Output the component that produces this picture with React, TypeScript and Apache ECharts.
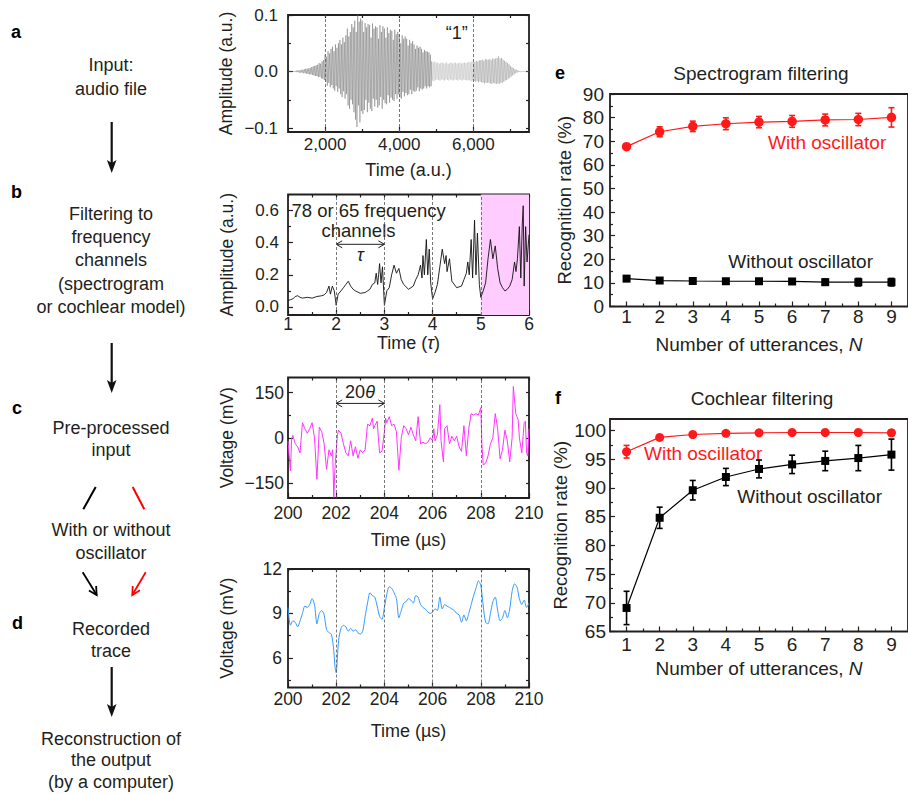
import React, { useEffect, useRef } from 'react';
import * as echarts from 'echarts';

const FONT = "'Liberation Sans', Arial, Helvetica, sans-serif";
const INK = '#231f20';

// ---------- panel a: audio waveform (sampled every waveStep a.u. from waveStart)
const waveStart = 1000;
const waveStep = 20;
const waveAmp = [
  0, 0, 0, 0, 0, 0, 0, 0, 0, 0,
  0.001, -0.001, 0.002, -0.001, 0.002, -0.002, 0.002, -0.002, 0.003, -0.002,
  0.003, -0.003, 0.004, -0.003, 0.005, -0.004, 0.005, -0.004, 0.006, -0.005,
  0.006, -0.005, 0.008, -0.006, 0.009, -0.007, 0.01, -0.008, 0.011, -0.008,
  0.012, -0.01, 0.015, -0.009, 0.014, -0.012, 0.018, -0.013, 0.02, -0.015,
  0.03, -0.018, 0.026, -0.025, 0.036, -0.02, 0.032, -0.028, 0.04, -0.024,
  0.044, -0.03, 0.036, -0.034, 0.048, -0.026, 0.042, -0.036, 0.05, -0.03,
  0.056, -0.04, 0.048, -0.045, 0.06, -0.035, 0.052, -0.048, 0.064, -0.04,
  0.076, -0.06, 0.062, -0.066, 0.07, -0.05, 0.084, -0.058, 0.078, -0.072,
  0.09, -0.085, 0.07, -0.098, 0.102, -0.06, 0.088, -0.09, 0.094, -0.07,
  0.09, -0.075, 0.07, -0.068, 0.086, -0.05, 0.078, -0.072, 0.084, -0.055,
  0.082, -0.066, 0.06, -0.07, 0.085, -0.048, 0.076, -0.062, 0.08, -0.05,
  0.078, -0.064, 0.058, -0.06, 0.082, -0.045, 0.07, -0.066, 0.08, -0.05,
  0.076, -0.056, 0.06, -0.058, 0.078, -0.042, 0.068, -0.055, 0.074, -0.046,
  0.072, -0.05, 0.056, -0.052, 0.074, -0.04, 0.066, -0.048, 0.07, -0.04,
  0.066, -0.046, 0.05, -0.048, 0.064, -0.036, 0.058, -0.044, 0.062, -0.038,
  0.058, -0.042, 0.046, -0.04, 0.056, -0.032, 0.05, -0.04, 0.054, -0.034,
  0.048, -0.036, 0.04, -0.034, 0.046, -0.028, 0.042, -0.035, 0.044, -0.03,
  0.04, -0.032, 0.034, -0.03, 0.038, -0.026, 0.036, -0.03, 0.035, -0.026,
  0.034, -0.028, 0.03, -0.026, 0.018, -0.016, 0.016, -0.017, 0.018, -0.015,
  0.015, -0.014, 0.016, -0.015, 0.014, -0.016, 0.015, -0.014, 0.016, -0.015,
  0.014, -0.016, 0.015, -0.014, 0.016, -0.015, 0.013, -0.016, 0.015, -0.014,
  0.016, -0.015, 0.014, -0.016, 0.015, -0.014, 0.016, -0.015, 0.014, -0.016,
  0.015, -0.014, 0.016, -0.015, 0.014, -0.016, 0.015, -0.014, 0.016, -0.015,
  0.015, -0.016, 0.016, -0.015, 0.017, -0.016, 0.016, -0.017, 0.018, -0.016,
  0.018, -0.017, 0.017, -0.018, 0.019, -0.017, 0.018, -0.019, 0.02, -0.018,
  0.02, -0.019, 0.021, -0.02, 0.019, -0.021, 0.022, -0.02, 0.021, -0.02,
  0.021, -0.02, 0.022, -0.021, 0.02, -0.022, 0.023, -0.02, 0.022, -0.021,
  0.023, -0.022, 0.024, -0.021, 0.027, -0.022, 0.023, -0.02, 0.024, -0.02,
  0.021, -0.018, 0.019, -0.016, 0.017, -0.015, 0.015, -0.013, 0.013, -0.011,
  0.01, -0.009, 0.008, -0.007, 0.006, -0.005, 0.004, -0.003, 0.003, -0.002,
  0.002, -0.001, 0.001, -0.001, 0, 0, 0, 0, 0, 0,
  0, 0, 0, 0, 0, 0,
];
const aDashX = [2000, 4000, 6000];
const aXMajor = [2000, 4000, 6000];
const aXMinor = [1000, 3000, 5000, 7000];
const aYMajor = [-0.1, 0, 0.1];
const aYMinor = [-0.05, 0.05];

// ---------- panel b: one frequency channel
const bTime = [
  1.0, 1.05, 1.1, 1.15, 1.2, 1.25, 1.3, 1.4, 1.5, 1.6, 1.7, 1.75, 1.8, 1.85, 1.88, 1.92, 1.96,
  2.0, 2.04, 2.1, 2.15, 2.2, 2.25, 2.3, 2.35, 2.4, 2.5, 2.6, 2.65, 2.7, 2.75, 2.8, 2.83, 2.86, 2.88, 2.9, 2.93, 2.96,
  3.0, 3.05, 3.1, 3.15, 3.2, 3.25, 3.3, 3.35, 3.4, 3.5, 3.6, 3.65, 3.7, 3.75, 3.78, 3.8, 3.83, 3.87, 3.9, 3.93, 3.96,
  4.0, 4.05, 4.1, 4.15, 4.2, 4.25, 4.28, 4.3, 4.35, 4.4, 4.5, 4.6, 4.65, 4.7, 4.73, 4.76, 4.8, 4.83, 4.87, 4.9, 4.93, 4.97,
  5.0, 5.05, 5.1, 5.15, 5.2, 5.25, 5.3, 5.35, 5.4, 5.45, 5.5, 5.55, 5.6, 5.65, 5.7, 5.73, 5.76, 5.8, 5.83, 5.86, 5.88, 5.9, 5.93, 5.96, 6.0,
];
const bAmp = [
  0.04, 0.045, 0.05, 0.065, 0.07, 0.06, 0.055, 0.06, 0.055, 0.065, 0.07, 0.075, 0.09, 0.13, 0.08, 0.13, 0.1,
  0.01, 0.08, 0.1, 0.12, 0.14, 0.16, 0.13, 0.11, 0.1, 0.085, 0.09, 0.1, 0.11, 0.14, 0.15, 0.21, 0.14, 0.2, 0.27, 0.15, 0.25,
  0.01, 0.1, 0.12, 0.2, 0.26, 0.21, 0.24, 0.17, 0.14, 0.11, 0.13, 0.17, 0.2, 0.26, 0.18, 0.32, 0.2, 0.42, 0.2, 0.36, 0.15,
  0.05, 0.09, 0.14, 0.25, 0.36, 0.27, 0.32, 0.22, 0.3, 0.16, 0.12, 0.13, 0.17, 0.21, 0.28, 0.2, 0.42, 0.18, 0.54, 0.2, 0.46, 0.14,
  0.06, 0.1, 0.15, 0.3, 0.42, 0.3, 0.38, 0.24, 0.15, 0.12, 0.1, 0.11, 0.13, 0.17, 0.28, 0.22, 0.3, 0.5, 0.18, 0.51, 0.63, 0.13, 0.5, 0.28, 0.45,
];
const bDashX = [2, 3, 4, 5];
const bShade = [5, 6];
const bXMajor = [1, 2, 3, 4, 5, 6];
const bXMinor = [1.5, 2.5, 3.5, 4.5, 5.5];
const bYMajor = [0, 0.2, 0.4, 0.6];
const bYMinor = [0.1, 0.3, 0.5];

// ---------- panel c: pre-processed input voltage
const cTime = [
  200.0, 200.05, 200.1, 200.15, 200.2, 200.3, 200.4, 200.5, 200.6, 200.7, 200.8, 200.9,
  201.0, 201.1, 201.2, 201.3, 201.4, 201.5, 201.6, 201.7, 201.8, 201.85, 201.9, 201.95,
  202.05, 202.1, 202.2, 202.3, 202.4, 202.5, 202.6, 202.7, 202.8, 202.9,
  203.0, 203.1, 203.2, 203.3, 203.4, 203.5, 203.55, 203.6, 203.7, 203.75, 203.8, 203.9,
  204.0, 204.05, 204.1, 204.2, 204.3, 204.4, 204.5, 204.6, 204.7, 204.8, 204.9,
  205.0, 205.1, 205.2, 205.3, 205.4, 205.5, 205.6, 205.7, 205.8, 205.9,
  206.0, 206.05, 206.1, 206.2, 206.3, 206.35, 206.45, 206.5, 206.6, 206.7, 206.8, 206.9,
  207.0, 207.1, 207.2, 207.3, 207.4, 207.5, 207.6, 207.7, 207.8, 207.9,
  208.0, 208.05, 208.1, 208.2, 208.3, 208.4, 208.5, 208.6, 208.7, 208.8, 208.9,
  209.0, 209.1, 209.2, 209.3, 209.35, 209.45, 209.55, 209.6, 209.7, 209.8, 209.85, 209.9, 209.95, 210.0,
];
const cVolt = [
  -10, -60, -110, -5, 8, -20, -30, -50, 50, 30, 15, 30,
  50, 0, -138, 35, 20, -20, -105, -40, -60, -40, -198, -100,
  10, 25, 15, -20, -50, -60, -10, -60, -30, -68,
  -40, -50, -40, 45, 40, 65, 30, 40, 55, 0, -50, -45,
  20, 65, 50, 70, 40, 45, 20, -108, 0, 40, 30,
  10, 35, 10, -10, 70, -20, -15, -20, -15, 0,
  -10, 30, -10, 10, 110, -10, -80, 30, 40, -20, 5, -10,
  5, -30, -45, 40, -60, 30, 80, 75, 80, 75,
  100, -30, -90, -85, -60, -20, 0, 80, 30, -70, -40,
  25, -10, -80, 0, 170, 80, 60, 0, -50, 50, 55, -50, -60, 30,
];
const cdDashX = [202, 204, 206, 208];
const cdXMajor = [200, 202, 204, 206, 208, 210];
const cdXMinor = [201, 203, 205, 207, 209];
const cYMajor = [-150, 0, 150];
const cYMinor = [-75, 75];

// ---------- panel d: recorded trace
const dTime = [
  200.0, 200.05, 200.1, 200.2, 200.3, 200.4, 200.5, 200.6, 200.7, 200.8, 200.9,
  201.0, 201.1, 201.2, 201.3, 201.4, 201.5, 201.6, 201.7, 201.8, 201.9, 201.95,
  202.0, 202.05, 202.1, 202.2, 202.3, 202.4, 202.5, 202.6, 202.7, 202.8, 202.9,
  203.0, 203.1, 203.2, 203.3, 203.4, 203.5, 203.6, 203.7, 203.8, 203.9,
  204.0, 204.1, 204.2, 204.3, 204.4, 204.5, 204.6, 204.7, 204.8, 204.9,
  205.0, 205.1, 205.2, 205.3, 205.4, 205.5, 205.6, 205.7, 205.8, 205.9,
  206.0, 206.1, 206.2, 206.3, 206.4, 206.5, 206.6, 206.7, 206.8, 206.9,
  207.0, 207.1, 207.2, 207.3, 207.4, 207.5, 207.6, 207.7, 207.8, 207.9,
  208.0, 208.1, 208.2, 208.3, 208.4, 208.5, 208.6, 208.7, 208.8, 208.9,
  209.0, 209.1, 209.2, 209.3, 209.4, 209.5, 209.6, 209.7, 209.8, 209.9, 210.0,
];
const dVolt = [
  9.4, 8.6, 8.2, 8.5, 8.4, 8.1, 8.5, 9.0, 9.5, 9.4, 9.6,
  10.0, 9.6, 8.3, 9.0, 9.2, 8.9, 7.9, 7.7, 7.6, 6.5, 5.4,
  5.0, 6.0, 7.2, 8.0, 8.2, 8.1, 7.8, 8.0, 7.8, 7.9, 7.7,
  7.6, 7.8, 8.8, 9.7, 10.4, 10.2, 10.1, 9.5, 8.8, 8.6,
  9.4, 10.3, 10.8, 10.7, 10.4, 10.0, 8.7, 9.2, 9.7, 9.8,
  10.0, 9.9, 9.7, 10.2, 10.1, 9.6, 9.4, 9.3, 9.1, 9.0,
  9.1, 9.3, 9.2, 10.1, 9.3, 9.6, 9.5, 9.4, 9.3, 9.2,
  9.0, 8.9, 8.4, 8.9, 8.5, 9.0, 9.6, 10.2, 10.7, 11.2,
  10.9, 9.5, 8.4, 8.3, 9.0, 9.8, 10.1, 9.2, 8.5, 8.7,
  9.2, 8.7, 9.3, 10.5, 11.0, 10.8, 10.0, 9.6, 9.9, 9.4, 9.7,
];
const dYMajor = [6, 9, 12];
const dYMinor = [4.5, 7.5, 10.5];

// ---------- panels e, f: recognition rate
const nUtter = [1, 2, 3, 4, 5, 6, 7, 8, 9];
const nMinor = [1.5, 2.5, 3.5, 4.5, 5.5, 6.5, 7.5, 8.5];
const eWithMean = [67.7, 74.0, 76.3, 77.4, 78.1, 78.4, 79.0, 79.2, 80.1];
const eWithErr = [1.0, 2.1, 2.2, 2.5, 2.4, 2.5, 2.5, 2.6, 4.1];
const eWithoutMean = [11.8, 11.0, 10.8, 10.7, 10.7, 10.6, 10.3, 10.3, 10.3];
const eWithoutErr = [1.0, 0.9, 0.7, 1.0, 1.0, 0.9, 1.3, 1.6, 1.6];
const eYMajor = [0, 10, 20, 30, 40, 50, 60, 70, 80, 90];
const eYMinor = [5, 15, 25, 35, 45, 55, 65, 75, 85];
const fWithMean = [96.3, 98.8, 99.3, 99.5, 99.6, 99.65, 99.65, 99.65, 99.6];
const fWithErr = [1.1, 0.3, 0.2, 0.2, 0.2, 0.2, 0.2, 0.2, 0.5];
const fWithoutMean = [69.1, 84.8, 89.6, 91.9, 93.3, 94.1, 94.7, 95.2, 95.8];
const fWithoutErr = [2.9, 1.85, 1.7, 1.5, 1.55, 1.6, 1.7, 2.2, 2.7];
const fYMajor = [65, 70, 75, 80, 85, 90, 95, 100];
const fYMinor = [67.5, 72.5, 77.5, 82.5, 87.5, 92.5, 97.5];

const RED = '#ff1a1a';

function fmtA(v: number) {
  if (v === 0) return '0.0';
  return v < 0 ? '\u2212' + Math.abs(v).toFixed(1) : v.toFixed(1);
}
function fmtInt(v: number) {
  return v < 0 ? '\u2212' + Math.abs(v) : String(v);
}

export default function App() {
  const ref = useRef<HTMLDivElement>(null);
  useEffect(() => {
    if (!ref.current) return;
    const chart = echarts.init(ref.current, null, { renderer: 'svg' });

    const grids = [
      { left: 288, top: 15, width: 241, height: 117 },
      { left: 288, top: 194.5, width: 241, height: 120.5 },
      { left: 288, top: 377.5, width: 241, height: 120.5 },
      { left: 288, top: 569, width: 241, height: 118.5 },
      { left: 610, top: 94, width: 305.5, height: 212.5 },
      { left: 610, top: 419, width: 305.5, height: 212.5 },
    ].map((g) => ({ ...g, show: true, borderColor: INK, borderWidth: 1.8, backgroundColor: 'transparent' }));

    const xAxes: any[] = [];
    const yAxes: any[] = [];
    const base = (gi: number, min: number, max: number) => ({
      type: 'value', gridIndex: gi, min, max, splitLine: { show: false },
      axisLine: { show: false, onZero: false },
    });
    const tick = (vals: number[], len: number) => ({
      show: true, inside: true, length: len, customValues: vals, lineStyle: { color: INK, width: 1.2 },
    });
    function addAxes(gi: number, xs: any, ys: any, mirror: boolean) {
      const xi = xAxes.length;
      const yi = yAxes.length;
      xAxes.push({
        ...base(gi, xs.min, xs.max), position: 'bottom',
        axisTick: tick(xs.major, 5),
        axisLabel: { customValues: xs.major, formatter: xs.fmt, margin: xs.margin, fontSize: xs.fs, color: INK, fontFamily: FONT, hideOverlap: false },
        name: xs.name, nameLocation: 'middle', nameGap: xs.nameGap,
        nameTextStyle: { fontSize: xs.nfs, color: INK, fontFamily: FONT, rich: { i: { fontStyle: 'italic', fontSize: xs.nfs, color: INK, fontFamily: FONT } } },
      });
      xAxes.push({ ...base(gi, xs.min, xs.max), position: 'bottom', axisTick: tick(xs.minor, 3), axisLabel: { show: false } });
      yAxes.push({
        ...base(gi, ys.min, ys.max), position: 'left',
        axisTick: tick(ys.major, 5),
        axisLabel: { customValues: ys.major, formatter: ys.fmt, margin: ys.margin, fontSize: ys.fs, color: INK, fontFamily: FONT, hideOverlap: false },
        name: ys.name, nameLocation: 'middle', nameGap: ys.nameGap,
        nameTextStyle: { fontSize: ys.nfs, color: INK, fontFamily: FONT },
      });
      yAxes.push({ ...base(gi, ys.min, ys.max), position: 'left', axisTick: tick(ys.minor, 3), axisLabel: { show: false } });
      if (mirror) {
        xAxes.push({ ...base(gi, xs.min, xs.max), position: 'top', axisTick: tick([...xs.major, ...xs.minor], 3), axisLabel: { show: false } });
        yAxes.push({ ...base(gi, ys.min, ys.max), position: 'right', axisTick: tick([...ys.major, ...ys.minor], 3), axisLabel: { show: false } });
      }
      return { xi, yi };
    }

    const A = addAxes(0,
      { min: 1000, max: 7500, major: aXMajor, minor: aXMinor, fmt: (v: number) => v.toLocaleString('en-US'), margin: 4, fs: 17, nfs: 18, name: 'Time (a.u.)', nameGap: 29 },
      { min: -0.107, max: 0.1, major: aYMajor, minor: aYMinor, fmt: fmtA, margin: 10, fs: 17, nfs: 17.5, name: 'Amplitude (a.u.)', nameGap: 53 }, true);
    const B = addAxes(1,
      { min: 1, max: 6, major: bXMajor, minor: bXMinor, fmt: (v: number) => String(v), margin: 0, fs: 17.5, nfs: 18, name: 'Time ({i|\u03c4})', nameGap: 18 },
      { min: -0.05, max: 0.7, major: bYMajor, minor: bYMinor, fmt: (v: number) => v.toFixed(1), margin: 9, fs: 17, nfs: 17.5, name: 'Amplitude (a.u.)', nameGap: 52 }, true);
    const C = addAxes(2,
      { min: 200, max: 210, major: cdXMajor, minor: cdXMinor, fmt: (v: number) => String(v), margin: 6, fs: 17.5, nfs: 18, name: 'Time (\u00b5s)', nameGap: 33 },
      { min: -200, max: 200, major: cYMajor, minor: cYMinor, fmt: fmtInt, margin: 4, fs: 17.5, nfs: 17.5, name: 'Voltage (mV)', nameGap: 52 }, true);
    const D = addAxes(3,
      { min: 200, max: 210, major: cdXMajor, minor: cdXMinor, fmt: (v: number) => String(v), margin: 2, fs: 17.5, nfs: 18, name: 'Time (\u00b5s)', nameGap: 34 },
      { min: 4, max: 12, major: dYMajor, minor: dYMinor, fmt: fmtInt, margin: 6, fs: 17.5, nfs: 17.5, name: 'Voltage (mV)', nameGap: 52 }, true);
    const E = addAxes(4,
      { min: 0.5, max: 9.5, major: nUtter, minor: nMinor, fmt: (v: number) => String(v), margin: 0, fs: 19, nfs: 19, name: 'Number of utterances, {i|N}', nameGap: 28 },
      { min: 0, max: 90, major: eYMajor, minor: eYMinor, fmt: fmtInt, margin: 6, fs: 19, nfs: 18.5, name: 'Recognition rate (%)', nameGap: 36 }, false);
    const F = addAxes(5,
      { min: 0.5, max: 9.5, major: nUtter, minor: nMinor, fmt: (v: number) => String(v), margin: 3, fs: 19, nfs: 19, name: 'Number of utterances, {i|N}', nameGap: 27 },
      { min: 65, max: 102, major: fYMajor, minor: fYMinor, fmt: fmtInt, margin: 4, fs: 19, nfs: 18.5, name: 'Recognition rate (%)', nameGap: 36 }, false);

    const dashLines = (xs: number[]) => ({
      silent: true, symbol: 'none', label: { show: false },
      lineStyle: { type: [3, 2], color: '#555', width: 0.8 },
      data: xs.map((x) => ({ xAxis: x })),
    });

    const errBars = (idx: any, mean: number[], err: number[], color: string) => ({
      type: 'custom', xAxisIndex: idx.xi, yAxisIndex: idx.yi, z: 3,
      data: nUtter.map((n, i) => [n, mean[i] - err[i], mean[i] + err[i]]),
      encode: { x: 0, y: [1, 2] },
      renderItem: (_p: any, api: any) => {
        const lo = api.coord([api.value(0), api.value(1)]);
        const hi = api.coord([api.value(0), api.value(2)]);
        const w = 3;
        const st = { stroke: color, lineWidth: 1.6 };
        return {
          type: 'group',
          children: [
            { type: 'line', shape: { x1: lo[0], y1: lo[1], x2: hi[0], y2: hi[1] }, style: st },
            { type: 'line', shape: { x1: lo[0] - w, y1: lo[1], x2: lo[0] + w, y2: lo[1] }, style: st },
            { type: 'line', shape: { x1: hi[0] - w, y1: hi[1], x2: hi[0] + w, y2: hi[1] }, style: st },
          ],
        };
      },
    });

    const meanLine = (idx: any, mean: number[], color: string, symbol: string, size: number, name: string) => ({
      type: 'line', name, xAxisIndex: idx.xi, yAxisIndex: idx.yi, z: 4,
      data: nUtter.map((n, i) => [n, mean[i]]),
      symbol, symbolSize: size, showSymbol: true,
      lineStyle: { color, width: 1.2 }, itemStyle: { color },
    });

    const series: any[] = [
      {
        type: 'line', name: 'audio', xAxisIndex: A.xi, yAxisIndex: A.yi, symbol: 'none',
        data: waveAmp.map((v, i) => [waveStart + i * waveStep, v]),
        lineStyle: { width: 0.45 },
        markLine: dashLines(aDashX),
      },
      {
        type: 'line', name: 'channel', xAxisIndex: B.xi, yAxisIndex: B.yi, symbol: 'none',
        data: bTime.map((t, i) => [t, bAmp[i]]),
        lineStyle: { color: '#111', width: 0.9 },
        markLine: dashLines(bDashX),
        markArea: { silent: true, itemStyle: { color: '#ffccff' }, data: [[{ xAxis: bShade[0] }, { xAxis: bShade[1] }]] },
      },
      {
        type: 'line', name: 'preprocessed', xAxisIndex: C.xi, yAxisIndex: C.yi, symbol: 'none',
        data: cTime.map((t, i) => [t, cVolt[i]]),
        lineStyle: { color: '#ff33ff', width: 1 },
        markLine: dashLines(cdDashX),
      },
      {
        type: 'line', name: 'recorded', xAxisIndex: D.xi, yAxisIndex: D.yi, symbol: 'none', smooth: 0.25,
        data: dTime.map((t, i) => [t, dVolt[i]]),
        lineStyle: { color: '#3399ff', width: 1 },
        markLine: dashLines(cdDashX),
      },
      errBars(E, eWithMean, eWithErr, RED),
      errBars(E, eWithoutMean, eWithoutErr, '#000'),
      meanLine(E, eWithMean, RED, 'circle', 9.5, 'e with'),
      meanLine(E, eWithoutMean, '#000', 'rect', 8, 'e without'),
      errBars(F, fWithMean, fWithErr, RED),
      errBars(F, fWithoutMean, fWithoutErr, '#000'),
      meanLine(F, fWithMean, RED, 'circle', 9, 'f with'),
      meanLine(F, fWithoutMean, '#000', 'rect', 8, 'f without'),
    ];

    chart.setOption({
      animation: false,
      backgroundColor: '#fff',
      grid: grids,
      xAxis: xAxes,
      yAxis: yAxes,
      visualMap: [{
        type: 'piecewise', show: false, seriesIndex: 0, dimension: 0,
        pieces: [
          { lt: 4880, color: '#6a6a6a' },
          { gte: 4880, lt: 6000, color: '#b8b8b8' },
          { gte: 6000, color: '#959595' },
        ],
      }],
      series,
    });

    // ---------- annotations
    const px = (idx: any, v: number[]) => chart.convertToPixel({ xAxisIndex: idx.xi, yAxisIndex: idx.yi } as any, v) as number[];
    const txt = (text: string, x: number, y: number, opts: any = {}) => ({
      type: 'text', x, y, silent: true,
      style: { text, fontSize: 18, fontFamily: FONT, fill: INK, align: 'center', verticalAlign: 'middle', ...opts },
    });
    const letter = (t: string, x: number, y: number) => txt(t, x, y, { fontWeight: 'bold', fontSize: 18, align: 'left', fill: '#000' });
    const dblArrow = (p1: number[], p2: number[]) => {
      const h = 6, w = 3.5;
      const st = { stroke: INK, lineWidth: 1, fill: 'none' };
      return [
        { type: 'line', silent: true, shape: { x1: p1[0], y1: p1[1], x2: p2[0], y2: p2[1] }, style: st },
        { type: 'polyline', silent: true, shape: { points: [[p1[0] + h, p1[1] - w], [p1[0], p1[1]], [p1[0] + h, p1[1] + w]] }, style: st },
        { type: 'polyline', silent: true, shape: { points: [[p2[0] - h, p2[1] - w], [p2[0], p2[1]], [p2[0] - h, p2[1] + w]] }, style: st },
      ];
    };
    const bigArrow = (x: number, y1: number, y2: number) => [
      { type: 'line', silent: true, shape: { x1: x, y1, x2: x, y2: y2 - 9 }, style: { stroke: '#111', lineWidth: 2.2 } },
      { type: 'polygon', silent: true, shape: { points: [[x, y2], [x - 4.8, y2 - 13], [x, y2 - 10], [x + 4.8, y2 - 13]] }, style: { fill: '#111' } },
    ];
    const slantArrow = (x1: number, y1: number, x2: number, y2: number, color: string) => {
      const dx = x2 - x1, dy = y2 - y1;
      const L = Math.hypot(dx, dy);
      const ux = dx / L, uy = dy / L;
      const a = (28 * Math.PI) / 180, len = 9;
      const rot = (s: number) => [x2 - len * (ux * Math.cos(s * a) - uy * Math.sin(s * a)), y2 - len * (ux * Math.sin(s * a) + uy * Math.cos(s * a))];
      const st = { stroke: color, lineWidth: 1.8, fill: 'none' };
      return [
        { type: 'line', silent: true, shape: { x1, y1, x2, y2 }, style: st },
        { type: 'polyline', silent: true, shape: { points: [rot(1), [x2, y2], rot(-1)] }, style: st },
      ];
    };

    const bArrowL = px(B, [2, 0.39]);
    const bArrowR = px(B, [3, 0.39]);
    const cArrowL = px(C, [202, 114]);
    const cArrowR = px(C, [204, 114]);

    const cx = 111;
    const graphic: any[] = [
      letter('a', 11, 32), letter('b', 11, 192), letter('c', 12, 408), letter('d', 12, 623),
      letter('e', 555, 73), letter('f', 555, 398),
      txt('Input:', cx, 65), txt('audio file', cx, 89),
      ...bigArrow(111.7, 122, 173),
      txt('Filtering to', cx, 213.5), txt('frequency', cx, 237), txt('channels', cx, 260.3),
      txt('(spectrogram', cx, 283.7), txt('or cochlear model)', cx, 307),
      ...bigArrow(111.7, 343, 393),
      txt('Pre-processed', cx, 428), txt('input', cx, 449.5),
      { type: 'line', silent: true, shape: { x1: 95.7, y1: 487, x2: 83.3, y2: 509.3 }, style: { stroke: '#000', lineWidth: 2 } },
      { type: 'line', silent: true, shape: { x1: 132.7, y1: 487, x2: 144.3, y2: 509.3 }, style: { stroke: '#ff0000', lineWidth: 2 } },
      txt('With or without', cx, 529.5), txt('oscillator', cx, 552.7),
      ...slantArrow(82.7, 572.3, 96.7, 595, '#000'),
      ...slantArrow(145.7, 572.3, 132.3, 595, '#ff0000'),
      txt('Recorded', cx, 629.3), txt('trace', cx, 651),
      ...bigArrow(111.7, 667, 717),
      txt('Reconstruction of', cx, 738.5), txt('the output', cx, 760), txt('(by a computer)', cx, 781.7),
      // panel a
      txt('\u201c1\u201d', 456.7, 33),
      // panel b
      txt('78 or 65 frequency', 291.5, 210, { align: 'left', fontSize: 18.5 }),
      txt('channels', 358.5, 230.5, { fontSize: 18.5 }),
      ...dblArrow(bArrowL, bArrowR),
      txt('\u03c4', (bArrowL[0] + bArrowR[0]) / 2, 255, { fontStyle: 'italic' }),
      // panel c
      ...dblArrow(cArrowL, cArrowR),
      {
        type: 'text', x: 360, y: 391.5, silent: true,
        style: {
          text: '{n|20}{t|\u03b8}', align: 'center', verticalAlign: 'middle',
          rich: {
            n: { fontSize: 18, fontFamily: FONT, fill: INK },
            t: { fontSize: 18, fontFamily: FONT, fill: INK, fontStyle: 'italic' },
          },
        },
      },
      // panels e, f
      txt('Spectrogram filtering', 761, 73, { fontSize: 19 }),
      txt('Cochlear filtering', 762, 398, { fontSize: 19 }),
      txt('With oscillator', 768, 142.3, { fontSize: 19, align: 'left', fill: RED }),
      txt('Without oscillator', 728.3, 261.7, { fontSize: 19, align: 'left' }),
      txt('With oscillator', 644, 453.3, { fontSize: 19, align: 'left', fill: RED }),
      txt('Without oscillator', 737.3, 496.7, { fontSize: 19, align: 'left' }),
    ];
    chart.setOption({ graphic });

    return () => chart.dispose();
  }, []);

  return (
    <div
      ref={ref}
      style={{ position: 'absolute', left: 0, top: 0, width: 908, height: 794, background: '#fff', overflow: 'hidden' }}
    />
  );
}
